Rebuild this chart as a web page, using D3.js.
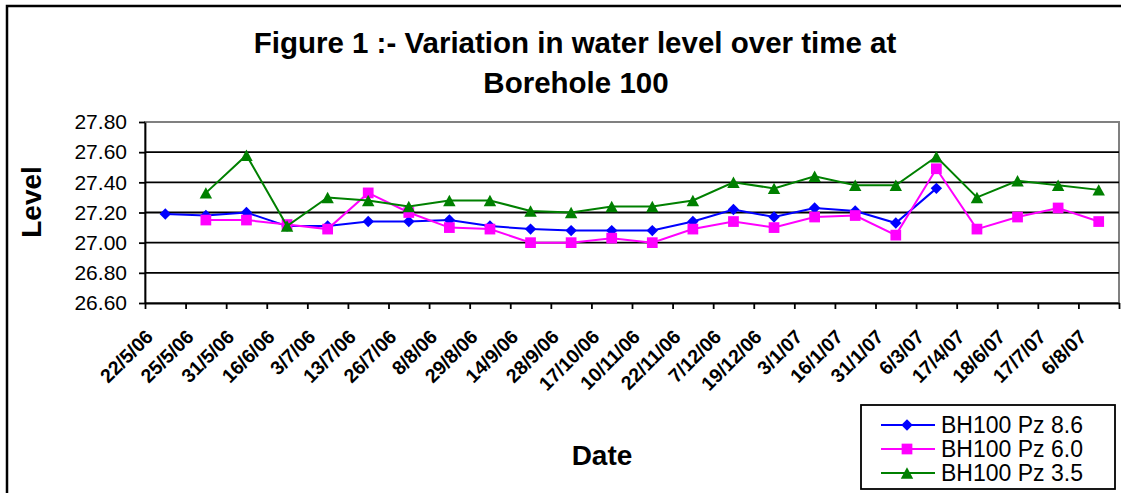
<!DOCTYPE html>
<html>
<head>
<meta charset="utf-8">
<script src="https://cdn.jsdelivr.net/npm/d3@7"></script>
<style>
  html, body { margin: 0; padding: 0; background: #fff; }
  svg { display: block; font-family: "Liberation Sans", Arial, sans-serif; }
</style>
</head>
<body>
<svg id="chart" width="1121" height="493"></svg>
<script>
// Sampling dates (category axis)
const categories = ["22/5/06","25/5/06","31/5/06","16/6/06","3/7/06","13/7/06","26/7/06","8/8/06",
  "29/8/06","14/9/06","28/9/06","17/10/06","10/11/06","22/11/06","7/12/06","19/12/06",
  "3/1/07","16/1/07","31/1/07","6/3/07","17/4/07","18/6/07","17/7/07","6/8/07"];

// Water level readings per piezometer (null = no reading)
const pz86 = [27.19, 27.18, 27.20, 27.11, 27.11, 27.14, 27.14, 27.15, 27.11, 27.09, 27.08, 27.08,
  27.08, 27.14, 27.22, 27.17, 27.23, 27.21, 27.13, 27.36, null, null, null, null];
const pz60 = [null, 27.15, 27.15, 27.12, 27.09, 27.33, 27.20, 27.10, 27.09, 27.00, 27.00, 27.03,
  27.00, 27.09, 27.14, 27.10, 27.17, 27.18, 27.05, 27.49, 27.09, 27.17, 27.23, 27.14];
const pz35 = [null, 27.33, 27.58, 27.11, 27.30, 27.28, 27.24, 27.28, 27.28, 27.21, 27.20, 27.24,
  27.24, 27.28, 27.40, 27.36, 27.44, 27.38, 27.38, 27.57, 27.30, 27.41, 27.38, 27.35];

const seriesNames = ["BH100 Pz 8.6", "BH100 Pz 6.0", "BH100 Pz 3.5"];
const yTicks = [26.6, 26.8, 27.0, 27.2, 27.4, 27.6, 27.8];

const svg = d3.select("#chart");
const plot = { left: 145, right: 1119, top: 122, bottom: 303 };

// Excel-style markers
const diamond = { draw(ctx, size) { const r = Math.sqrt(size) / 2; ctx.moveTo(0, -r); ctx.lineTo(r, 0); ctx.lineTo(0, r); ctx.lineTo(-r, 0); ctx.closePath(); } };
const square = { draw(ctx, size) { const r = Math.sqrt(size) / 2; ctx.rect(-r, -r, 2 * r, 2 * r); } };
const triangle = { draw(ctx, size) { const w = Math.sqrt(size), h = w * 0.92; ctx.moveTo(0, -h / 2); ctx.lineTo(w / 2, h / 2); ctx.lineTo(-w / 2, h / 2); ctx.closePath(); } };

const series = [
  { name: seriesNames[0], values: pz86, color: "#0000ff", symbol: d3.symbol(diamond, 130) },
  { name: seriesNames[1], values: pz60, color: "#ff00ff", symbol: d3.symbol(square, 115) },
  { name: seriesNames[2], values: pz35, color: "#008000", symbol: d3.symbol(triangle, 155) }
];

// Outer chart frame
svg.append("rect").attr("x", 7).attr("y", 6).attr("width", 1140).attr("height", 520)
  .attr("fill", "#fff").attr("stroke", "#000").attr("stroke-width", 2.5);

// Title
const title = svg.append("text").attr("text-anchor", "middle")
  .attr("font-weight", "bold").attr("font-size", 29.5).attr("fill", "#000");
title.append("tspan").attr("x", 575).attr("y", 53).text("Figure 1 :- Variation in water level over time at");
title.append("tspan").attr("x", 576).attr("y", 93).text("Borehole 100");

// Scales
const x = d3.scaleBand().domain(categories).range([plot.left, plot.right]);
const xTick = d3.scaleLinear().domain([0, categories.length]).range([plot.left, plot.right]);
const y = d3.scaleLinear().domain([26.6, 27.8]).range([plot.bottom, plot.top]);
const cx = d => x(d) + x.bandwidth() / 2;

// Plot area border
svg.append("rect").attr("x", plot.left).attr("y", plot.top)
  .attr("width", plot.right - plot.left).attr("height", plot.bottom - plot.top)
  .attr("fill", "#fff").attr("stroke", "#808080").attr("stroke-width", 2);

// Horizontal gridlines
svg.append("g").selectAll("line").data(yTicks.slice(1, -1)).join("line")
  .attr("x1", plot.left).attr("x2", plot.right)
  .attr("y1", d => y(d)).attr("y2", d => y(d))
  .attr("stroke", "#000").attr("stroke-width", 1.8);

// Y axis
const yAxis = svg.append("g").attr("transform", `translate(${plot.left},0)`)
  .call(d3.axisLeft(y).tickValues(yTicks).tickFormat(d3.format(".2f")).tickSize(6).tickSizeOuter(0).tickPadding(12));
yAxis.selectAll("path, line").attr("stroke", "#000").attr("stroke-width", 1.8);
yAxis.selectAll("text").attr("font-size", 21).attr("font-family", "Liberation Sans, Arial, sans-serif").attr("fill", "#000");

// X axis (tick marks between categories)
const xAxis = svg.append("g").attr("transform", `translate(0,${plot.bottom})`)
  .call(d3.axisBottom(xTick).tickValues(d3.range(0, categories.length + 1)).tickFormat("").tickSize(6).tickSizeOuter(0));
xAxis.selectAll("path, line").attr("stroke", "#000").attr("stroke-width", 1.8);

// Rotated category labels
svg.append("g").selectAll("text").data(categories).join("text")
  .attr("transform", d => `translate(${cx(d) - 11},${plot.bottom + 35}) rotate(-45)`)
  .attr("text-anchor", "end").attr("font-weight", "bold").attr("font-size", 19.5)
  .attr("fill", "#000").text(d => d);

// Axis titles
svg.append("text").attr("transform", "translate(41,202) rotate(-90)")
  .attr("text-anchor", "middle").attr("font-weight", "bold").attr("font-size", 28).text("Level");
svg.append("text").attr("x", 602).attr("y", 465)
  .attr("text-anchor", "middle").attr("font-weight", "bold").attr("font-size", 28).text("Date");

// Series lines and markers
const line = d3.line().defined(d => d.v != null).x(d => cx(d.c)).y(d => y(d.v));
series.forEach(s => {
  const pts = categories.map((c, i) => ({ c, v: s.values[i] }));
  const g = svg.append("g");
  g.append("path").datum(pts).attr("d", line)
    .attr("fill", "none").attr("stroke", s.color).attr("stroke-width", 2);
  g.selectAll("path.m").data(pts.filter(d => d.v != null)).join("path").attr("class", "m")
    .attr("transform", d => `translate(${cx(d.c)},${y(d.v)})`)
    .attr("d", s.symbol).attr("fill", s.color);
});

// Legend
const lg = svg.append("g");
lg.append("rect").attr("x", 861).attr("y", 405).attr("width", 254).attr("height", 84)
  .attr("fill", "#fff").attr("stroke", "#000").attr("stroke-width", 1.8);
series.forEach((s, i) => {
  const ly = 425 + i * 24;
  lg.append("line").attr("x1", 881).attr("x2", 935).attr("y1", ly).attr("y2", ly)
    .attr("stroke", s.color).attr("stroke-width", 2);
  lg.append("path").attr("transform", `translate(907,${ly})`).attr("d", s.symbol).attr("fill", s.color);
  lg.append("text").attr("x", 941).attr("y", ly + 8).attr("font-size", 23).attr("fill", "#000").text(s.name);
});
</script>
</body>
</html>
